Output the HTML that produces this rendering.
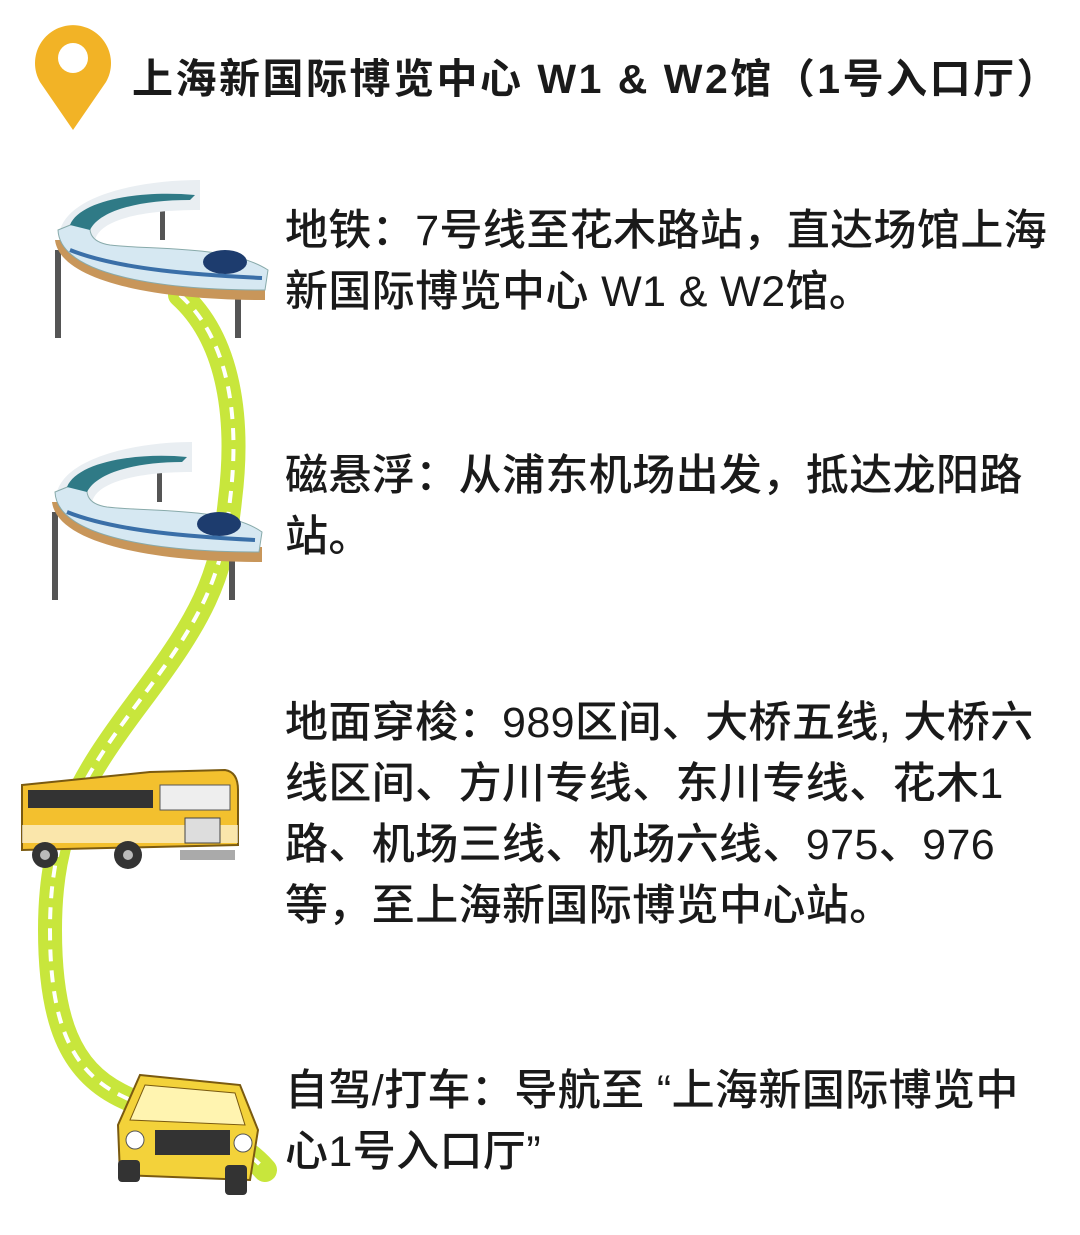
<!DOCTYPE html>
<html><head><meta charset="utf-8">
<style>
html,body{margin:0;padding:0;background:#fff;}
body{width:1080px;height:1235px;position:relative;overflow:hidden;font-family:"Liberation Sans","Noto Sans CJK SC",sans-serif;color:#1a1a1a;}
.t{position:absolute;left:285px;font-size:43px;font-weight:500;line-height:61px;letter-spacing:0.4px;white-space:nowrap;}
.title{position:absolute;left:132px;top:45px;font-size:41px;font-weight:700;letter-spacing:2.5px;white-space:nowrap;}
svg{position:absolute;left:0;top:0;}
</style></head><body>
<svg width="1080" height="1235" viewBox="0 0 1080 1235">
  <path d="M73 130 L40 82 A38 38 0 1 1 106 82 Z" fill="#F2B326"/>
  <circle cx="73" cy="58" r="15" fill="#fff"/>
  <path d="M180 295 C230 340 240 420 230 500 C222 580 200 620 140 700 C80 780 50 830 50 930 C50 1020 70 1070 120 1095 C170 1120 230 1130 265 1170" fill="none" stroke="#C8E63C" stroke-width="24" stroke-linecap="round"/>
  <path d="M180 295 C230 340 240 420 230 500 C222 580 200 620 140 700 C80 780 50 830 50 930 C50 1020 70 1070 120 1095 C170 1120 230 1130 265 1170" fill="none" stroke="#fff" stroke-width="4" stroke-dasharray="12 9"/>
  <g>
    <rect x="55" y="250" width="6" height="88" fill="#555"/>
    <rect x="235" y="290" width="6" height="48" fill="#555"/>
    <rect x="160" y="200" width="5" height="40" fill="#555"/>
    <path d="M60 230 C70 195 140 180 200 180 L200 210 C140 210 100 220 95 240 Z" fill="#e9eef2"/>
    <path d="M55 240 C60 280 150 300 265 300 L265 285 C160 285 80 275 70 240 Z" fill="#C8965A"/>
    <path d="M58 230 C60 275 160 290 265 290 L268 270 C230 245 150 250 110 245 C90 242 85 230 95 215 Z" fill="#d6e8f2" stroke="#8aa" stroke-width="1"/>
    <path d="M70 225 C80 200 140 190 195 195 L190 200 C140 200 100 210 90 230 Z" fill="#2f7a86"/>
    <ellipse cx="225" cy="262" rx="22" ry="12" fill="#1d3c6e"/>
    <path d="M70 250 C120 270 200 275 262 278" stroke="#3a6fa8" stroke-width="4" fill="none"/>
  </g>
  <g transform="translate(-3,262)">
    <rect x="55" y="250" width="6" height="88" fill="#555"/>
    <rect x="232" y="290" width="6" height="48" fill="#555"/>
    <rect x="160" y="200" width="5" height="40" fill="#555"/>
    <path d="M60 230 C70 195 140 180 195 180 L195 210 C140 210 100 220 95 240 Z" fill="#e9eef2"/>
    <path d="M55 240 C60 280 150 300 265 300 L265 285 C160 285 80 275 70 240 Z" fill="#C8965A"/>
    <path d="M58 230 C60 275 160 290 262 290 L265 270 C230 245 150 250 110 245 C90 242 85 230 95 215 Z" fill="#d6e8f2" stroke="#8aa" stroke-width="1"/>
    <path d="M70 225 C80 200 140 190 190 195 L185 200 C140 200 100 210 90 230 Z" fill="#2f7a86"/>
    <ellipse cx="222" cy="262" rx="22" ry="12" fill="#1d3c6e"/>
    <path d="M70 250 C120 270 200 275 258 278" stroke="#3a6fa8" stroke-width="4" fill="none"/>
  </g>
  <g>
    <path d="M22 785 L150 772 L225 770 Q238 772 238 790 L238 845 L22 850 Z" fill="#F3C02E" stroke="#7a5a10" stroke-width="2"/>
    <rect x="22" y="825" width="216" height="18" fill="#fff" opacity="0.6"/>
    <rect x="28" y="790" width="125" height="18" fill="#333"/>
    <rect x="160" y="785" width="70" height="25" fill="#eee" stroke="#555"/>
    <rect x="185" y="818" width="35" height="25" fill="#ddd" stroke="#444"/>
    <circle cx="45" cy="855" r="13" fill="#333"/><circle cx="45" cy="855" r="5" fill="#bbb"/>
    <circle cx="128" cy="855" r="14" fill="#333"/><circle cx="128" cy="855" r="5" fill="#bbb"/>
    <rect x="180" y="850" width="55" height="10" fill="#aaa"/>
  </g>
  <g>
    <path d="M140 1075 L240 1085 L258 1130 L250 1180 L120 1175 L118 1125 Z" fill="#F3D23A" stroke="#7a5a10" stroke-width="2"/>
    <path d="M145 1085 L235 1093 L245 1125 L130 1120 Z" fill="#fff4b0" stroke="#7a5a10"/>
    <rect x="155" y="1130" width="75" height="25" fill="#333"/>
    <circle cx="135" cy="1140" r="9" fill="#fff" stroke="#555"/><circle cx="243" cy="1143" r="9" fill="#fff" stroke="#555"/>
    <rect x="118" y="1160" width="22" height="22" rx="4" fill="#333"/><rect x="225" y="1165" width="22" height="30" rx="4" fill="#333"/>
  </g>
</svg>
<div class="title">上海新国际博览中心 W1 &amp; W2馆（1号入口厅）</div>
<div class="t" style="top:201px">地铁：7号线至花木路站，直达场馆上海<br>新国际博览中心 W1 &amp; W2馆。</div>
<div class="t" style="top:446px">磁悬浮：从浦东机场出发，抵达龙阳路<br>站。</div>
<div class="t" style="top:693px">地面穿梭：989区间、大桥五线, 大桥六<br>线区间、方川专线、东川专线、花木1<br>路、机场三线、机场六线、975、976<br>等，至上海新国际博览中心站。</div>
<div class="t" style="top:1061px">自驾/打车：导航至 “上海新国际博览中<br>心1号入口厅”</div>
</body></html>
